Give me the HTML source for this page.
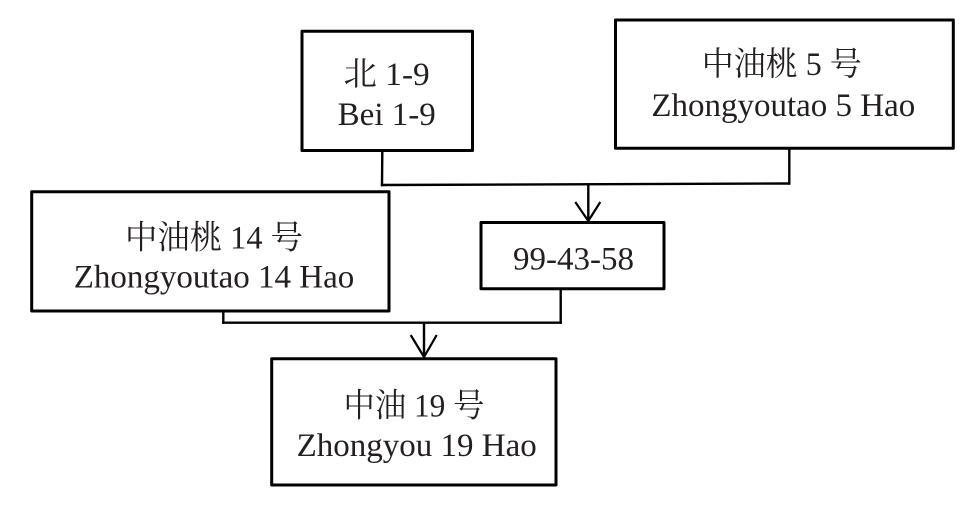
<!DOCTYPE html>
<html>
<head>
<meta charset="utf-8">
<style>
  html, body { margin: 0; padding: 0; background: #ffffff; }
  body { width: 980px; height: 520px; overflow: hidden; }
  svg { display: block; }
  text { font-family: "Liberation Serif", "Noto Serif CJK SC", serif; font-size: 33px; fill: #231f20; }
</style>
</head>
<body>
<svg width="980" height="520" viewBox="0 0 980 520" xmlns="http://www.w3.org/2000/svg">
  <!-- Boxes -->
  <g fill="none" stroke="#000" stroke-width="3" stroke-linejoin="round">
    <rect x="302" y="31.3" width="170.5" height="119.2"/>
    <rect x="615.5" y="20" width="337.8" height="128.3"/>
    <rect x="31.7" y="191.7" width="357.3" height="119.3"/>
    <rect x="481" y="222.5" width="183" height="66.2"/>
    <rect x="271.7" y="358.7" width="284.3" height="126.3"/>
  </g>

  <!-- Connectors -->
  <g fill="none" stroke="#000" stroke-width="2.4" stroke-linecap="square">
    <line x1="382.3" y1="152" x2="382" y2="185"/>
    <line x1="382" y1="185" x2="789.3" y2="183.5"/>
    <line x1="789.3" y1="149.8" x2="789.3" y2="183.5"/>
    <line x1="588.3" y1="184.5" x2="588.3" y2="220.5"/>

    <line x1="223.3" y1="312.5" x2="223.3" y2="322.7"/>
    <line x1="223.3" y1="322.7" x2="560.7" y2="322.7"/>
    <line x1="560.7" y1="290" x2="560.7" y2="322.7"/>
    <line x1="424" y1="322.7" x2="424" y2="356.5"/>
  </g>
  <g fill="none" stroke="#000" stroke-width="2.2" stroke-linejoin="miter">
    <polyline points="575.3,202 588.3,221 600.3,202"/>
    <polyline points="410.7,335 424,357 436.7,335"/>
  </g>

  <!-- Labels -->
  <text x="386.7" y="85" text-anchor="middle" textLength="86" lengthAdjust="spacingAndGlyphs">北 1-9</text>
  <text x="386.7" y="125" text-anchor="middle">Bei 1-9</text>

  <text x="781.7" y="75" text-anchor="middle" textLength="160" lengthAdjust="spacingAndGlyphs">中油桃 5 号</text>
  <text x="783.3" y="116" text-anchor="middle">Zhongyoutao 5 Hao</text>

  <text x="214" y="248.3" text-anchor="middle" textLength="178" lengthAdjust="spacingAndGlyphs">中油桃 14 号</text>
  <text x="214" y="287.3" text-anchor="middle">Zhongyoutao 14 Hao</text>

  <text x="573.5" y="269.3" text-anchor="middle">99-43-58</text>

  <text x="414" y="416.7" text-anchor="middle" textLength="141" lengthAdjust="spacingAndGlyphs">中油 19 号</text>
  <text x="416.7" y="456" text-anchor="middle">Zhongyou 19 Hao</text>
</svg>
</body>
</html>
